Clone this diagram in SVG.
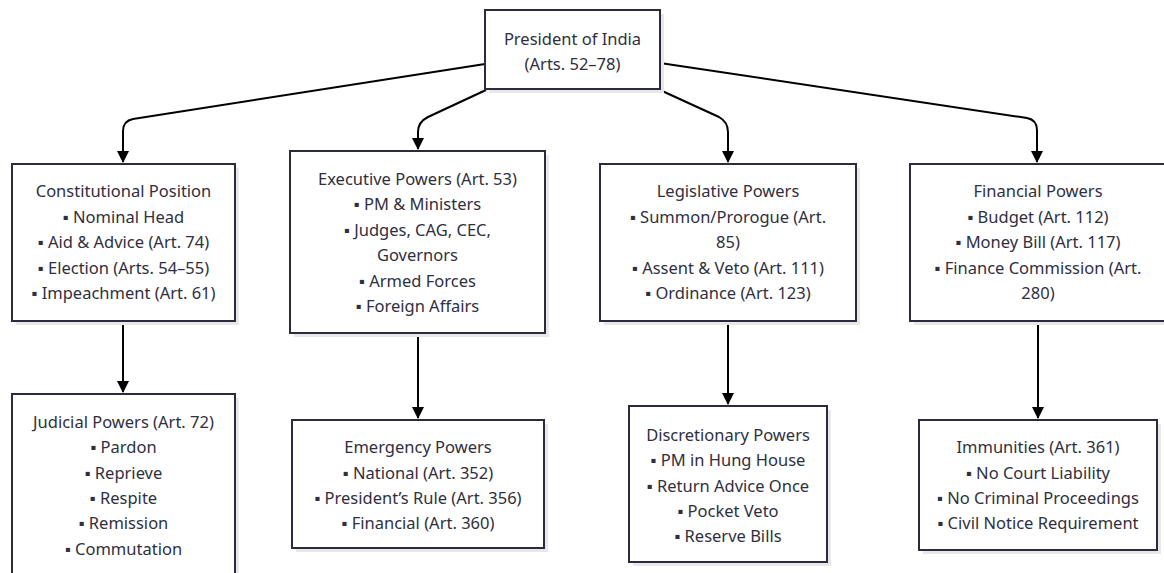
<svg xmlns="http://www.w3.org/2000/svg" width="1164" height="573" viewBox="0 0 1164 573">
  <defs>
    <marker id="arrow" viewBox="0 0 12 12" refX="11" refY="6" markerWidth="12" markerHeight="12" markerUnits="userSpaceOnUse" orient="auto">
      <path d="M0,0 L12,6 L0,12 Z" fill="#000"/>
    </marker>
    <style>
      .box { fill: #ffffff; stroke: #2b2b3d; stroke-width: 2; }
      .shadow { fill: #e8e8e8; }
      .label { font-family: "Noto Sans", "Open Sans", sans-serif; font-size: 16.5px; fill: #2f2f40; text-anchor: middle; }
      .edge { fill: none; stroke: #000; stroke-width: 2; marker-end: url(#arrow); }
    </style>
  </defs>
  <rect width="1164" height="573" fill="#ffffff"/>

  <!-- connectors -->
  <g id="connectors">
    <path class="edge" d="M485,64 L133,119 Q123,121 123,131 L123,162"/>
    <path class="edge" d="M486,90 L428,117 Q418,122 418,132 L418,149"/>
    <path class="edge" d="M660,90 L719,117 Q728,122 728,132 L728,162"/>
    <path class="edge" d="M660,63 L1027,118 Q1037,120 1037,130 L1037,162"/>
    <path class="edge" d="M123,321 L123,392"/>
    <path class="edge" d="M418,333 L418,418"/>
    <path class="edge" d="M728,321 L728,404"/>
    <path class="edge" d="M1038,321 L1038,418"/>
  </g>

  <!-- root -->
  <g id="president">
    <rect class="shadow" x="489" y="14" width="175" height="79"/>
    <rect class="box" x="485" y="10" width="175" height="79"/>
    <text class="label" x="572.5" y="45">President of India</text>
    <text class="label" x="572.5" y="70">(Arts. 52–78)</text>
  </g>

  <g id="constitutional">
    <rect class="shadow" x="16" y="168" width="223" height="157"/>
    <rect class="box" x="12" y="164" width="223" height="157"/>
    <text class="label" x="123.5" y="197">Constitutional Position</text>
    <text class="label" x="123.5" y="223">▪ Nominal Head</text>
    <text class="label" x="123.5" y="248">▪ Aid &amp; Advice (Art. 74)</text>
    <text class="label" x="123.5" y="274">▪ Election (Arts. 54–55)</text>
    <text class="label" x="123.5" y="299">▪ Impeachment (Art. 61)</text>
  </g>

  <g id="executive">
    <rect class="shadow" x="294" y="155" width="255" height="182"/>
    <rect class="box" x="290" y="151" width="255" height="182"/>
    <text class="label" x="417.5" y="185">Executive Powers (Art. 53)</text>
    <text class="label" x="417.5" y="210">▪ PM &amp; Ministers</text>
    <text class="label" x="417.5" y="236">▪ Judges, CAG, CEC,</text>
    <text class="label" x="417.5" y="261">Governors</text>
    <text class="label" x="417.5" y="287">▪ Armed Forces</text>
    <text class="label" x="417.5" y="312">▪ Foreign Affairs</text>
  </g>

  <g id="legislative">
    <rect class="shadow" x="604" y="168" width="256" height="157"/>
    <rect class="box" x="600" y="164" width="256" height="157"/>
    <text class="label" x="728" y="197">Legislative Powers</text>
    <text class="label" x="728" y="223">▪ Summon/Prorogue (Art.</text>
    <text class="label" x="728" y="248">85)</text>
    <text class="label" x="728" y="274">▪ Assent &amp; Veto (Art. 111)</text>
    <text class="label" x="728" y="299">▪ Ordinance (Art. 123)</text>
  </g>

  <g id="financial">
    <rect class="shadow" x="914" y="168" width="256" height="157"/>
    <rect class="box" x="910" y="164" width="256" height="157"/>
    <text class="label" x="1038" y="197">Financial Powers</text>
    <text class="label" x="1038" y="223">▪ Budget (Art. 112)</text>
    <text class="label" x="1038" y="248">▪ Money Bill (Art. 117)</text>
    <text class="label" x="1038" y="274">▪ Finance Commission (Art.</text>
    <text class="label" x="1038" y="299">280)</text>
  </g>

  <g id="judicial">
    <rect class="shadow" x="16" y="398" width="223" height="190"/>
    <rect class="box" x="12" y="394" width="223" height="190"/>
    <text class="label" x="123.5" y="428">Judicial Powers (Art. 72)</text>
    <text class="label" x="123.5" y="453">▪ Pardon</text>
    <text class="label" x="123.5" y="479">▪ Reprieve</text>
    <text class="label" x="123.5" y="504">▪ Respite</text>
    <text class="label" x="123.5" y="529">▪ Remission</text>
    <text class="label" x="123.5" y="555">▪ Commutation</text>
  </g>

  <g id="emergency">
    <rect class="shadow" x="296" y="424" width="252" height="128"/>
    <rect class="box" x="292" y="420" width="252" height="128"/>
    <text class="label" x="418" y="453">Emergency Powers</text>
    <text class="label" x="418" y="479">▪ National (Art. 352)</text>
    <text class="label" x="418" y="504">▪ President’s Rule (Art. 356)</text>
    <text class="label" x="418" y="529">▪ Financial (Art. 360)</text>
  </g>

  <g id="discretionary">
    <rect class="shadow" x="633" y="410" width="198" height="156"/>
    <rect class="box" x="629" y="406" width="198" height="156"/>
    <text class="label" x="728" y="441">Discretionary Powers</text>
    <text class="label" x="728" y="466">▪ PM in Hung House</text>
    <text class="label" x="728" y="492">▪ Return Advice Once</text>
    <text class="label" x="728" y="517">▪ Pocket Veto</text>
    <text class="label" x="728" y="542">▪ Reserve Bills</text>
  </g>

  <g id="immunities">
    <rect class="shadow" x="923" y="424" width="238" height="130"/>
    <rect class="box" x="919" y="420" width="238" height="130"/>
    <text class="label" x="1038" y="453">Immunities (Art. 361)</text>
    <text class="label" x="1038" y="479">▪ No Court Liability</text>
    <text class="label" x="1038" y="504">▪ No Criminal Proceedings</text>
    <text class="label" x="1038" y="529">▪ Civil Notice Requirement</text>
  </g>
</svg>
